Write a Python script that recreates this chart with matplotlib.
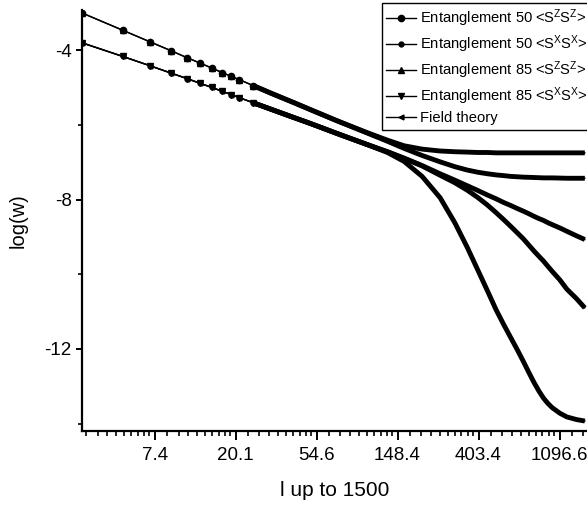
import numpy as np
import matplotlib
matplotlib.use("Agg")
import matplotlib.pyplot as plt
import matplotlib.ticker as mticker
from matplotlib import font_manager


def _have(family):
    try:
        font_manager.findfont(font_manager.FontProperties(family=family),
                              fallback_to_default=False)
        return True
    except ValueError:
        return False


plt.rcParams["font.family"] = ["Liberation Sans", "DejaVu Sans"]

# legend in the reference uses a condensed face
if _have("Liberation Sans Narrow"):
    LEG_FAMILY, LEG_SIZE = "Liberation Sans Narrow", 12.0
else:
    LEG_FAMILY, LEG_SIZE = "Liberation Sans", 10.6
plt.rcParams["mathtext.fontset"] = "custom"
plt.rcParams["mathtext.rm"] = LEG_FAMILY
plt.rcParams["mathtext.it"] = LEG_FAMILY
plt.rcParams["mathtext.default"] = "rm"

# distance l (odd l near the start, where single markers are visible)
l_vals = [3, 5, 7, 9, 11, 13, 15, 17, 19, 21, 25, 31, 41, 51, 71, 101, 131,
          161, 201, 251, 301, 351, 401, 451, 501, 551, 601, 651, 701, 751, 801,
          851, 901, 951, 1001, 1101, 1201, 1351, 1499]

ent50_zz = [-3.00, -3.47, -3.78, -4.01, -4.20, -4.35, -4.48, -4.60, -4.70, -4.79,
            -4.95, -5.15, -5.40, -5.60, -5.90, -6.20, -6.41,
            -6.56, -6.65, -6.70, -6.72, -6.73, -6.74, -6.74, -6.75, -6.75, -6.75,
            -6.75, -6.75, -6.75, -6.75, -6.75, -6.75, -6.75, -6.75, -6.75, -6.75,
            -6.75, -6.75]
ent50_xx = [-3.80, -4.17, -4.42, -4.61, -4.76, -4.89, -5.00, -5.10, -5.19, -5.27,
            -5.41, -5.58, -5.80, -5.97, -6.24, -6.52, -6.74,
            -6.98, -7.38, -7.95, -8.62, -9.28, -9.90, -10.45, -10.95, -11.35, -11.70,
            -12.02, -12.33, -12.63, -12.90, -13.13, -13.32, -13.46, -13.57, -13.72,
            -13.82, -13.89, -13.93]
ent85_zz = [-3.00, -3.47, -3.78, -4.01, -4.20, -4.35, -4.48, -4.60, -4.70, -4.79,
            -4.95, -5.15, -5.40, -5.60, -5.90, -6.21, -6.44,
            -6.63, -6.82, -6.99, -7.12, -7.21, -7.27, -7.31, -7.34, -7.36, -7.38,
            -7.39, -7.40, -7.405, -7.41, -7.415, -7.42, -7.42, -7.42, -7.425,
            -7.43, -7.43, -7.43]
ent85_xx = [-3.80, -4.17, -4.42, -4.61, -4.76, -4.89, -5.00, -5.10, -5.19, -5.27,
            -5.41, -5.58, -5.80, -5.97, -6.24, -6.52, -6.72,
            -6.90, -7.10, -7.35, -7.55, -7.75, -7.95, -8.15, -8.35, -8.54, -8.72,
            -8.89, -9.05, -9.22, -9.38, -9.52, -9.65, -9.79, -9.92, -10.15,
            -10.40, -10.65, -10.90]
field_theory = [-3.80, -4.17, -4.42, -4.61, -4.76, -4.89, -5.00, -5.10, -5.19, -5.27,
                -5.41, -5.58, -5.80, -5.97, -6.24, -6.52, -6.72,
                -6.89, -7.09, -7.31, -7.48, -7.63, -7.76, -7.88, -7.98, -8.08, -8.16,
                -8.24, -8.31, -8.38, -8.45, -8.51, -8.56, -8.62, -8.67, -8.76,
                -8.85, -8.97, -9.07]

x_tick_labels = ["7.4", "20.1", "54.6", "148.4", "403.4", "1096.6"]
y_ticks = [-4, -8, -12]
y_minor = [-6, -10, -14]

series = [
    ("Entanglement 50 <S$^Z$S$^Z$>", ent50_zz, "o", 4.5),
    ("Entanglement 50 <S$^X$S$^X$>", ent50_xx, "o", 3.5),
    ("Entanglement 85 <S$^Z$S$^Z$>", ent85_zz, "^", 4.0),
    ("Entanglement 85 <S$^X$S$^X$>", ent85_xx, "v", 4.0),
    ("Field theory", field_theory, "<", 3.5),
]

fig = plt.figure(figsize=(5.87, 5.09), dpi=100)
ax = fig.add_axes([0.139, 0.153, 0.861, 0.827])

l_arr = np.array(l_vals)
dense = l_arr >= 25          # markers merge into a thick band from here on
n_marked = int(np.sum(l_arr <= 25))

handles = []
for label, ys, mk, ms in series:
    ys = np.array(ys)
    h, = ax.plot(l_arr, ys, color="black", lw=1.0, marker=mk, ms=ms,
                 markevery=list(range(n_marked)), label=label)
    ax.plot(l_arr[dense], ys[dense], color="black", lw=3.5,
            solid_capstyle="butt", solid_joinstyle="round")
    handles.append(h)

ax.set_xscale("log", base=np.e)
ax.set_xlim(3.0, 1540)
ax.set_ylim(-14.2, -2.93)

ax.xaxis.set_major_locator(mticker.FixedLocator(np.e ** np.arange(2, 8)))
ax.xaxis.set_major_formatter(mticker.FixedFormatter(x_tick_labels))
minor_x = [np.e ** n * (1 + k * (np.e - 1) / 10) for n in range(1, 8) for k in range(1, 10)]
ax.xaxis.set_minor_locator(mticker.FixedLocator(minor_x))
ax.xaxis.set_minor_formatter(mticker.NullFormatter())

ax.set_yticks(y_ticks)
ax.set_yticklabels([str(v) for v in y_ticks])
ax.set_yticks(y_minor, minor=True)

for side in ("top", "right"):
    ax.spines[side].set_visible(False)
for side in ("left", "bottom"):
    ax.spines[side].set_linewidth(1.6)

ax.tick_params(axis="x", which="major", length=6.5, width=1.4, labelsize=13.5, pad=5)
ax.tick_params(axis="x", which="minor", length=3.5, width=1.2)
ax.tick_params(axis="y", which="major", length=4.5, width=1.4, labelsize=13.5, pad=2.5)
ax.tick_params(axis="y", which="minor", length=3.0, width=1.2)

ax.set_xlabel("l up to 1500", fontsize=15, labelpad=12)
ax.set_ylabel("log(w)", fontsize=14.5, labelpad=12)

leg = ax.legend(handles=handles, loc="upper left",
                bbox_to_anchor=(382 / 587, 1 - 3 / 509), bbox_transform=fig.transFigure,
                prop={"family": LEG_FAMILY, "size": LEG_SIZE},
                frameon=True, fancybox=False, edgecolor="black",
                framealpha=1, handlelength=2.0, handletextpad=0.3, labelspacing=0.3,
                borderpad=0.3, borderaxespad=0, numpoints=1)
leg.get_frame().set_linewidth(1.0)

fig.savefig("out.png", dpi=100)
